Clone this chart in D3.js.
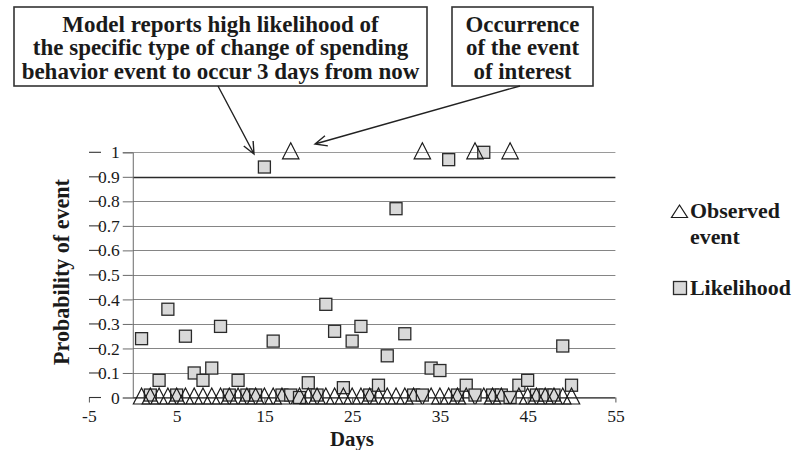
<!DOCTYPE html>
<html><head><meta charset="utf-8">
<script src="https://cdn.jsdelivr.net/npm/d3@7"></script>
<style>
body{margin:0;background:#fff}
svg{display:block}
text{font-family:"Liberation Serif","Times New Roman",serif;fill:#1a1a1a}
</style>
</head><body>
<svg id="c" width="796" height="450"></svg>
<script>
const days = [1,2,3,4,5,6,7,8,9,10,11,12,13,14,15,16,17,18,19,20,21,22,23,24,25,26,27,28,29,30,31,32,33,34,35,36,37,38,39,40,41,42,43,44,45,46,47,48,49,50];
const likelihood = [0.24,0.01,0.07,0.36,0.01,0.25,0.10,0.07,0.12,0.29,
                    0.01,0.07,0.01,0.01,0.94,0.23,0.01,0.01,0.00,0.06,
                    0.01,0.38,0.27,0.04,0.23,0.29,0.01,0.05,0.17,0.77,
                    0.26,0.01,0.01,0.12,0.11,0.97,0.01,0.05,0.01,1.00,
                    0.01,0.01,0.00,0.05,0.07,0.01,0.01,0.01,0.21,0.05];
const observed = [0,0,0,0,0,0,0,0,0,0,
                  0,0,0,0,0,0,0,1,0,0,
                  0,0,0,0,0,0,0,0,0,0,
                  0,0,1,0,0,0,0,0,1,0,
                  0,0,1,0,0,0,0,0,0,0];
const yTicks = [0,0.1,0.2,0.3,0.4,0.5,0.6,0.7,0.8,0.9,1];
const yTickLabels = ["0","0.1","0.2","0.3","0.4","0.5","0.6","0.7","0.8","0.9","1"];
const xTicks = [-5,5,15,25,35,45,55];
const xTickLabels = ["-5","5","15","25","35","45","55"];
const noteLeft = ["Model reports high likelihood of","the specific type of change of spending","behavior event to occur 3 days from now"];
const noteRight = ["Occurrence","of the event","of interest"];
const legendObserved = ["Observed","event"];
const legendLikelihood = "Likelihood";
const xTitle = "Days";
const yTitle = "Probability of event";

const svg = d3.select("#c");
const x = d3.scaleLinear().domain([-5,55]).range([88.9,615.4]);
const y = d3.scaleLinear().domain([0,1]).range([397.5,152.3]);

function fit(sel, target){
  const w = sel.node().getComputedTextLength();
  const fs = parseFloat(sel.style("font-size"));
  return fs*target/w;
}

// gridlines
svg.append("g").selectAll("line").data(yTicks).join("line")
  .attr("x1",x(0)).attr("x2",x(55))
  .attr("y1",d=>Math.round(y(d))+0.5).attr("y2",d=>Math.round(y(d))+0.5)
  .attr("stroke",d=>d===0.9?"#2a2a2a":(d===1?"#9a9a9a":"#858585"))
  .attr("stroke-width",d=>d===0.9?1.4:1.1);

// y axis
const yAxis = svg.append("g").attr("transform",`translate(${x(0)},0)`)
  .call(d3.axisLeft(y).tickValues(yTicks).tickSize(10).tickPadding(3)
    .tickFormat((d,i)=>yTickLabels[i]));
yAxis.attr("font-family",null).attr("font-size",null);
yAxis.select(".domain").attr("stroke","#6a6a6a");
yAxis.selectAll(".tick line").attr("stroke","#6a6a6a");
yAxis.selectAll(".tick text").style("font-family","'Liberation Serif',serif").style("font-size","17.5px").attr("fill","#1a1a1a");
// leading dashes beside tick labels
svg.append("g").selectAll("line").data(yTicks).join("line")
  .attr("x1",89).attr("x2",101)
  .attr("y1",d=>y(d)).attr("y2",d=>y(d))
  .attr("stroke","#333").attr("stroke-width",1.1);

// x axis
const xAxis = svg.append("g").attr("transform",`translate(0,${y(0)})`)
  .call(d3.axisBottom(x).tickValues(xTicks).tickSize(5).tickPadding(7)
    .tickFormat((d,i)=>xTickLabels[i]));
xAxis.attr("font-family",null).attr("font-size",null);
xAxis.select(".domain").attr("d",`M${x(0)},0H${x(55)}`).attr("stroke","#555");
xAxis.selectAll(".tick line").attr("stroke","#555");
xAxis.selectAll(".tick text").style("font-family","'Liberation Serif',serif").style("font-size","17.5px").attr("fill","#1a1a1a");

// likelihood squares
const sq = 12;
svg.append("g").selectAll("rect").data(days).join("rect")
  .attr("x",(d,i)=>x(d)-sq/2).attr("y",(d,i)=>y(likelihood[i])-sq/2)
  .attr("width",sq).attr("height",sq)
  .attr("fill","#d9d9d9").attr("stroke","#2a2a2a").attr("stroke-width",1.3);

// observed triangles (outline only)
const tri = d3.line()([[0,-9.5],[8.2,6.5],[-8.2,6.5]]) + "Z";
svg.append("g").selectAll("path").data(days).join("path")
  .attr("d",tri)
  .attr("transform",(d,i)=>`translate(${x(d)},${y(observed[i])})`)
  .attr("fill","none").attr("stroke","#1a1a1a").attr("stroke-width",1.2);

// axis titles
const yt = svg.append("text").text(yTitle).attr("font-weight","bold").style("font-size","18px")
  .attr("text-anchor","middle").attr("transform","translate(69,272) rotate(-90)");
yt.style("font-size", fit(yt,186)+"px");
const xt = svg.append("text").text(xTitle).attr("font-weight","bold").style("font-size","18px")
  .attr("text-anchor","middle").attr("x",352).attr("y",446);
xt.style("font-size", fit(xt,44)+"px");

// annotation boxes
function note(lines, box, cx, refIdx, refW){
  svg.append("rect").attr("x",box[0]).attr("y",box[1]).attr("width",box[2]-box[0]).attr("height",box[3]-box[1])
    .attr("fill","#fff").attr("stroke","#333").attr("stroke-width",1.6);
  const t = svg.append("g").selectAll("text").data(lines).join("text")
    .text(d=>d).attr("font-weight","bold").style("font-size","20px")
    .attr("text-anchor","middle").attr("x",cx).attr("y",(d,i)=>31.5+i*23.5);
  const fs = fit(d3.select(t.nodes()[refIdx]), refW);
  t.style("font-size",fs+"px");
}
note(noteLeft,[14,7,427,86],220.5,2,398);
note(noteRight,[452,7,593,86],522.5,1,113);

// arrows
function arrow(x1,y1,x2,y2){
  const a = Math.atan2(y2-y1,x2-x1), L=13, s=0.42;
  svg.append("path")
    .attr("d",`M${x1},${y1}L${x2},${y2}M${x2-L*Math.cos(a-s)},${y2-L*Math.sin(a-s)}L${x2},${y2}L${x2-L*Math.cos(a+s)},${y2-L*Math.sin(a+s)}`)
    .attr("fill","none").attr("stroke","#222").attr("stroke-width",1.4);
}
arrow(218,86,254,154);
arrow(520,86,315,144);

// legend
svg.append("path").attr("d",d3.line()([[0,-6.5],[8,6],[-8,6]])+"Z")
  .attr("transform","translate(679.5,211.5)").attr("fill","#fff").attr("stroke","#1a1a1a").attr("stroke-width",1.2);
const lg = svg.append("g").selectAll("text").data(legendObserved).join("text")
  .text(d=>d).attr("font-weight","bold").style("font-size","20px")
  .attr("x",690).attr("y",(d,i)=>218+i*25.5);
svg.append("rect").attr("x",673.5).attr("y",281.5).attr("width",13).attr("height",13)
  .attr("fill","#d9d9d9").attr("stroke","#2a2a2a").attr("stroke-width",1.3);
const ll = svg.append("text").text(legendLikelihood).attr("font-weight","bold").style("font-size","20px")
  .attr("x",690).attr("y",295);
const lfs = fit(ll,101);
ll.style("font-size",lfs+"px");
lg.style("font-size",lfs+"px");
</script>
</body></html>
